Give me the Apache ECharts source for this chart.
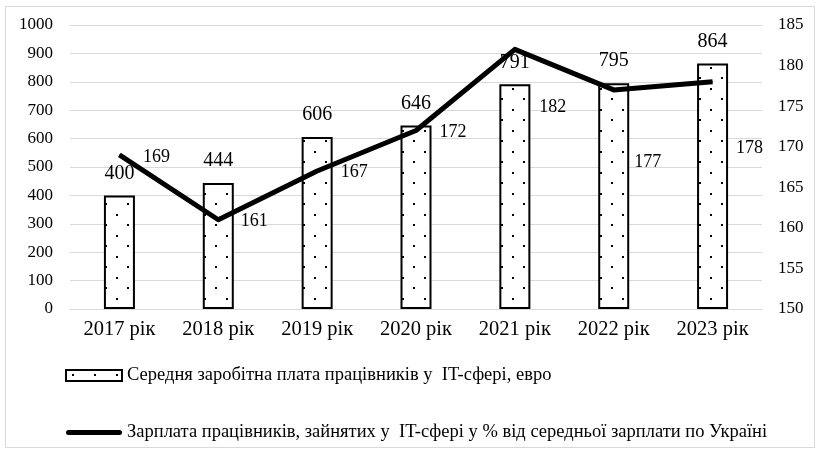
<!DOCTYPE html>
<html>
<head>
<meta charset="utf-8">
<script src="https://cdn.jsdelivr.net/npm/echarts@6/dist/echarts.min.js"></script>
<style>
  html, body { margin: 0; padding: 0; background: #fff; }
  #main { width: 822px; height: 451px; }
</style>
</head>
<body>
<div id="main"></div>
<script>
var years = ['2017 рік', '2018 рік', '2019 рік', '2020 рік', '2021 рік', '2022 рік', '2023 рік'];
var salaryEur = [400, 444, 606, 646, 791, 795, 864];
var salaryPct = [169, 161, 167, 172, 182, 177, 178];
var leftTicks = { min: 0, max: 1000, step: 100 };
var rightTicks = { min: 150, max: 185, step: 5 };

var barName = 'Середня заробітна плата працівників у  IT-сфері, евро';
var lineName = 'Зарплата працівників, зайнятих у  IT-сфері у % від середньої зарплати по Україні';

// подписи линии в Excel были сдвинуты вручную
var lineLabelShift = [[37, 2], [36, 2], [37, 1], [37, 2], [38, 58], [34, 72], [37, 66]];

var serif = '"Liberation Serif", "DejaVu Serif", serif';

// точечная заливка столбцов
var tile = document.createElement('canvas');
tile.width = 22;
tile.height = 21;
var ctx = tile.getContext('2d');
ctx.fillStyle = '#fff';
ctx.fillRect(0, 0, 22, 21);
ctx.fillStyle = '#000';
ctx.fillRect(6, 4, 2, 2);
ctx.fillRect(17, 14, 2, 2);
var dots = { image: tile, repeat: 'repeat' };

// толстая линия для легенды (без маркера)
var lineIcon = 'path://M0,2.5 A2.5,2.5 0 0 1 2.5,0 L53.5,0 A2.5,2.5 0 0 1 53.5,5 L2.5,5 A2.5,2.5 0 0 1 0,2.5 Z';

var myChart = echarts.init(document.getElementById('main'));

var option = {
    animation: false,
    backgroundColor: '#fff',
    textStyle: { fontFamily: serif, color: '#000' },
    graphic: [{
        type: 'rect',
        shape: { x: 5.5, y: 6.5, width: 809, height: 441 },
        style: { fill: 'none', stroke: '#d9d9d9', lineWidth: 1 },
        silent: true
    }],
    grid: {
        left: 70,
        right: 60,
        top: 25,
        bottom: 142
    },
    legend: {
        orient: 'vertical',
        left: 65,
        top: 366,
        padding: 0,
        itemGap: 38,
        itemWidth: 56,
        itemHeight: 11,
        textStyle: { fontFamily: serif, fontSize: 18.5, color: '#000' },
        data: [
            { name: barName, icon: 'rect' },
            { name: lineName, icon: lineIcon, itemStyle: { color: '#000', borderWidth: 0 } }
        ]
    },
    xAxis: {
        type: 'category',
        data: years,
        axisTick: { show: false },
        axisLine: { show: true, lineStyle: { color: '#d9d9d9', width: 1 } },
        axisLabel: { fontFamily: serif, fontSize: 20.5, color: '#000', margin: 10 }
    },
    yAxis: [
        {
            type: 'value',
            min: leftTicks.min,
            max: leftTicks.max,
            interval: leftTicks.step,
            axisLine: { show: false },
            axisTick: { show: false },
            splitLine: { lineStyle: { color: '#d9d9d9', width: 1 } },
            axisLabel: {
                fontFamily: serif, fontSize: 17, color: '#000', margin: 17,
                formatter: function (v) { return String(v); }
            }
        },
        {
            type: 'value',
            min: rightTicks.min,
            max: rightTicks.max,
            interval: rightTicks.step,
            axisLine: { show: false },
            axisTick: { show: false },
            splitLine: { show: false },
            axisLabel: { fontFamily: serif, fontSize: 17, color: '#000', margin: 16 }
        }
    ],
    series: [
        {
            name: barName,
            type: 'bar',
            yAxisIndex: 0,
            barWidth: 31,
            data: salaryEur,
            itemStyle: {
                color: dots,
                borderColor: '#000',
                borderWidth: 2
            },
            label: {
                show: true,
                position: 'top',
                distance: 12,
                fontFamily: serif,
                fontSize: 20,
                color: '#000'
            }
        },
        {
            name: lineName,
            type: 'line',
            yAxisIndex: 1,
            symbol: 'none',
            lineStyle: { color: '#000', width: 5, join: 'round' },
            itemStyle: { color: '#000' },
            data: salaryPct
        },
        {
            // только подписи к линии
            name: 'labels',
            type: 'scatter',
            yAxisIndex: 1,
            symbolSize: 1,
            itemStyle: { color: '#000', opacity: 1 },
            silent: true,
            z: 5,
            data: salaryPct.map(function (v, i) {
                return {
                    value: v,
                    label: { offset: lineLabelShift[i] }
                };
            }),
            label: {
                show: true,
                position: 'inside',
                fontFamily: serif,
                fontSize: 18,
                color: '#000',
                textBorderWidth: 0,
                formatter: function (p) { return p.value; }
            }
        }
    ]
};

myChart.setOption(option);
</script>
</body>
</html>
